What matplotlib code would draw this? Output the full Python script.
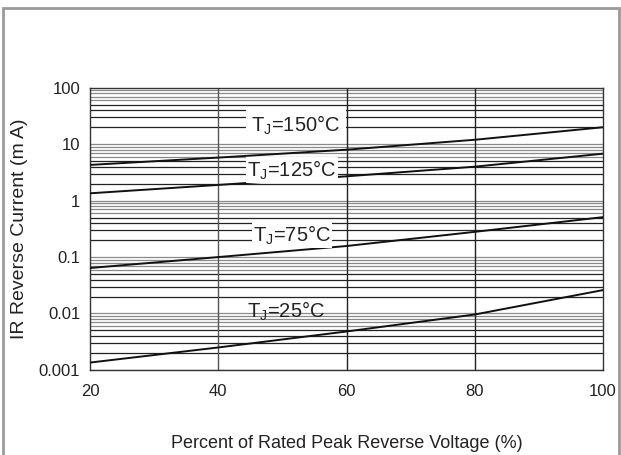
import numpy as np
import matplotlib.pyplot as plt
from matplotlib.patches import Rectangle
from matplotlib.ticker import FixedLocator, FixedFormatter

plt.rcParams['font.family'] = ['Liberation Sans', 'DejaVu Sans']

# values
voltage = [20, 40, 60, 80, 100]
ir_150 = [4.3, 5.8, 8.0, 12.0, 20.0]
ir_125 = [1.35, 1.9, 2.7, 4.0, 6.8]
ir_75 = [0.064, 0.1, 0.157, 0.28, 0.51]
ir_25 = [0.00135, 0.0025, 0.0048, 0.0096, 0.026]

x_ticks = [20, 40, 60, 80, 100]
y_ticks = [0.001, 0.01, 0.1, 1, 10, 100]
y_tick_labels = ['0.001', '0.01', '0.1', '1', '10', '100']

fig = plt.figure(figsize=(6.21, 4.55), dpi=100)
ax = fig.add_axes([0.145, 0.187, 0.826, 0.62])

# frame around the whole picture
fig.patches.append(Rectangle((0.005, -0.05), 0.992, 1.033, transform=fig.transFigure,
                             fill=False, edgecolor='#9a9a9a', linewidth=2))

ax.set_yscale('log')
ax.set_xlim(20, 100)
ax.set_ylim(0.001, 100)

# grid: decade + minor lines, all drawn
for dec in [0.001, 0.01, 0.1, 1, 10]:
    for m in range(1, 10):
        y = dec * m
        col = '#8a8a8a' if m in (1, 6, 7, 8, 9) else '#222222'
        ax.axhline(y, color=col, linewidth=0.9, zorder=1)
for x in [40, 60, 80]:
    ax.axvline(x, color='#555555' if x == 40 else '#222222', linewidth=1.0, zorder=1)

for series in [ir_150, ir_125, ir_75, ir_25]:
    ax.plot(voltage, series, color='#111111', linewidth=1.4, zorder=3)

lab_fs = 14.5
box = dict(facecolor='white', edgecolor='none', pad=1.0)
ax.text(52.1, 22, 'T$_\\mathregular{J}$=150°C', fontsize=lab_fs, ha='center', va='center',
        bbox=dict(facecolor='white', edgecolor='none', pad=4), zorder=4, color='#222222')
ax.text(51.5, 3.5, 'T$_\\mathregular{J}$=125°C', fontsize=lab_fs, ha='center', va='center',
        bbox=box, zorder=4, color='#222222')
ax.text(51.5, 0.245, 'T$_\\mathregular{J}$=75°C', fontsize=lab_fs, ha='center', va='center',
        bbox=box, zorder=4, color='#222222')
ax.text(50.6, 0.0108, 'T$_\\mathregular{J}$=25°C', fontsize=lab_fs, ha='center', va='center',
        zorder=4, color='#222222')

ax.xaxis.set_major_locator(FixedLocator(x_ticks))
ax.yaxis.set_major_locator(FixedLocator(y_ticks))
ax.yaxis.set_major_formatter(FixedFormatter(y_tick_labels))
ax.yaxis.set_minor_locator(FixedLocator([]))
ax.tick_params(axis='both', length=0, labelsize=12, colors='#222222')
ax.tick_params(axis='x', pad=10)
ax.tick_params(axis='y', pad=7)

for s in ax.spines.values():
    s.set_color('#333333')
    s.set_linewidth(1.0)

ax.set_xlabel('Percent of Rated Peak Reverse Voltage (%)', fontsize=13, labelpad=26, color='#222222')
ax.set_ylabel('IR Reverse Current (m A)', fontsize=14, labelpad=8, color='#222222')

fig.savefig('out.png', dpi=100)
